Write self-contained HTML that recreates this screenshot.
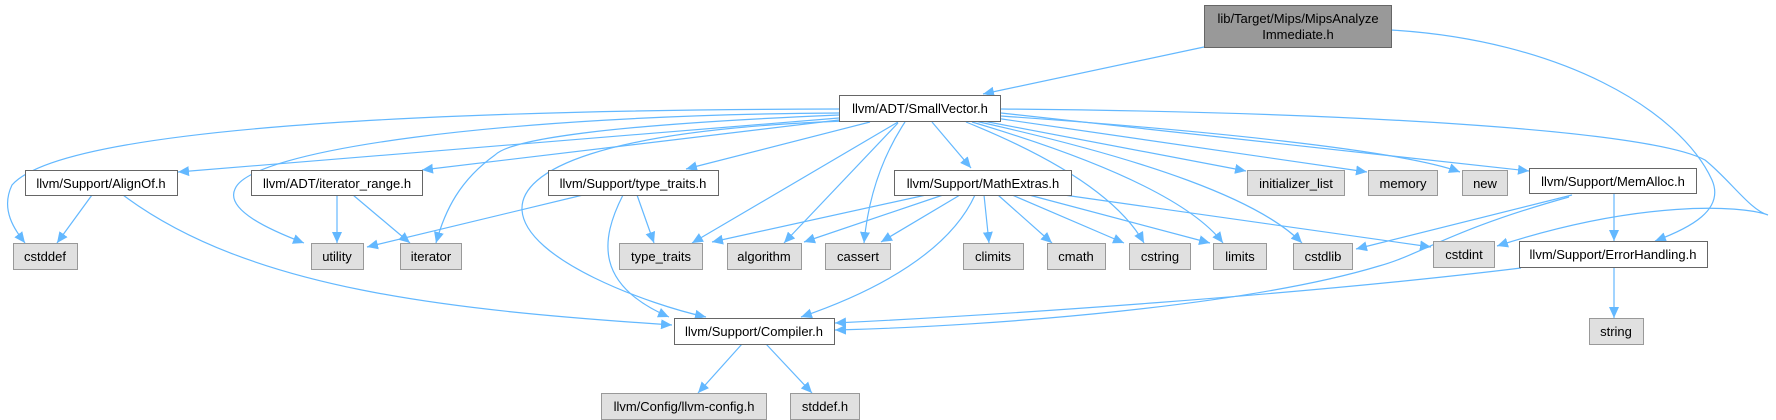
<!DOCTYPE html>
<html><head><meta charset="utf-8"><style>
html,body{margin:0;padding:0;background:#fff;}
svg{display:block;}
text{font-family:"Liberation Sans",Arial,sans-serif;font-size:13px;fill:#000;}
</style></head><body>
<svg width="1776" height="420" viewBox="0 0 1776 420" xmlns="http://www.w3.org/2000/svg">
<defs>
<marker id="a" markerUnits="userSpaceOnUse" markerWidth="12" markerHeight="10" refX="11" refY="5" orient="auto">
<path d="M0,0 L11,5 L0,10 z" fill="#63b8ff"/>
</marker>
</defs>
<g fill="none" stroke="#63b8ff" stroke-width="1.2" marker-end="url(#a)">
<path d="M1204,47 L983,94"/>
<path d="M1391,30 C1560,40 1680,110 1712,180 C1725,210 1690,228 1655,241"/>
<path d="M1001,109 C1350,112 1650,130 1705,160 C1730,180 1750,210 1768,215 C1740,205 1640,200 1497,246"/>
<path d="M1001,113 L1529,171"/>
<path d="M1001,116 C1200,130 1400,150 1460,172"/>
<path d="M995,118 L1367,172"/>
<path d="M983,121 L1246,171"/>
<path d="M975,121 C1150,160 1260,200 1302,243"/>
<path d="M972,122 C1100,160 1190,200 1223,243"/>
<path d="M966,122 C1060,160 1120,200 1144,243"/>
<path d="M932,122 L971,168"/>
<path d="M839,109 C400,110 60,130 12,185 C0,210 15,230 25,243"/>
<path d="M839,118 L178,172"/>
<path d="M839,120 L422,170"/>
<path d="M839,113 C500,115 250,150 235,189 C225,210 270,230 304,243"/>
<path d="M839,115 C600,125 510,140 495,155 C460,180 445,210 436,243"/>
<path d="M845,121 C600,130 520,170 522,210 C525,260 650,305 706,317"/>
<path d="M870,122 L686,169"/>
<path d="M898,122 L692,243"/>
<path d="M898,123 L784,243"/>
<path d="M905,122 C880,160 868,200 864,243"/>
<path d="M926,195 L712,242"/>
<path d="M943,195 L804,242"/>
<path d="M960,195 L881,242"/>
<path d="M975,195 C950,250 880,290 801,317"/>
<path d="M984,195 L989,243"/>
<path d="M998,195 L1052,243"/>
<path d="M1012,195 L1124,243"/>
<path d="M1029,195 L1210,243"/>
<path d="M1064,195 L1431,247"/>
<path d="M583,195 L367,247"/>
<path d="M637,195 L654,243"/>
<path d="M623,195 C600,240 595,285 669,317"/>
<path d="M92,195 L57,243"/>
<path d="M123,195 C250,290 450,310 672,325"/>
<path d="M337,195 L337,243"/>
<path d="M353,195 L410,243"/>
<path d="M1614,193 L1614,241"/>
<path d="M1572,195 L1356,249"/>
<path d="M1569,197 C1450,230 1420,255 1379,266 C1250,305 1000,326 835,330"/>
<path d="M1521,268 C1300,295 1000,315 835,323"/>
<path d="M1614,267 L1614,318"/>
<path d="M742,344 L698,393"/>
<path d="M766,344 L812,393"/>
</g>
<g stroke-width="1">
<rect x="1204.5" y="5.5" width="187" height="42" fill="#999" stroke="#666"/>
<rect x="839.5" y="95.5" width="161" height="26" fill="#fff" stroke="#666"/>
<rect x="25.5" y="170.5" width="152" height="25" fill="#fff" stroke="#666"/>
<rect x="251.5" y="170.5" width="171" height="25" fill="#fff" stroke="#666"/>
<rect x="548.5" y="170.5" width="170" height="25" fill="#fff" stroke="#666"/>
<rect x="894.5" y="170.5" width="177" height="25" fill="#fff" stroke="#666"/>
<rect x="1247.5" y="170.5" width="97" height="25" fill="#e0e0e0" stroke="#999"/>
<rect x="1368.5" y="170.5" width="69" height="25" fill="#e0e0e0" stroke="#999"/>
<rect x="1462.5" y="170.5" width="45" height="25" fill="#e0e0e0" stroke="#999"/>
<rect x="1529.5" y="168.5" width="167" height="25" fill="#fff" stroke="#666"/>
<rect x="13.5" y="243.5" width="64" height="26" fill="#e0e0e0" stroke="#999"/>
<rect x="311.5" y="243.5" width="52" height="26" fill="#e0e0e0" stroke="#999"/>
<rect x="400.5" y="243.5" width="61" height="26" fill="#e0e0e0" stroke="#999"/>
<rect x="619.5" y="243.5" width="83" height="26" fill="#e0e0e0" stroke="#999"/>
<rect x="727.5" y="243.5" width="74" height="26" fill="#e0e0e0" stroke="#999"/>
<rect x="825.5" y="243.5" width="65" height="26" fill="#e0e0e0" stroke="#999"/>
<rect x="963.5" y="243.5" width="60" height="26" fill="#e0e0e0" stroke="#999"/>
<rect x="1047.5" y="243.5" width="58" height="26" fill="#e0e0e0" stroke="#999"/>
<rect x="1129.5" y="243.5" width="61" height="26" fill="#e0e0e0" stroke="#999"/>
<rect x="1213.5" y="243.5" width="53" height="26" fill="#e0e0e0" stroke="#999"/>
<rect x="1293.5" y="243.5" width="59" height="26" fill="#e0e0e0" stroke="#999"/>
<rect x="1433.5" y="241.5" width="61" height="26" fill="#e0e0e0" stroke="#999"/>
<rect x="1519.5" y="241.5" width="188" height="26" fill="#fff" stroke="#666"/>
<rect x="674.5" y="318.5" width="160" height="26" fill="#fff" stroke="#666"/>
<rect x="1589.5" y="318.5" width="54" height="26" fill="#e0e0e0" stroke="#999"/>
<rect x="601.5" y="393.5" width="165" height="26" fill="#e0e0e0" stroke="#999"/>
<rect x="790.5" y="393.5" width="69" height="26" fill="#e0e0e0" stroke="#999"/>
</g>
<g text-anchor="middle">
<text x="1298" y="23">lib/Target/Mips/MipsAnalyze</text>
<text x="1298" y="39">Immediate.h</text>
<text x="920" y="113">llvm/ADT/SmallVector.h</text>
<text x="101" y="188">llvm/Support/AlignOf.h</text>
<text x="337" y="188">llvm/ADT/iterator_range.h</text>
<text x="633" y="188">llvm/Support/type_traits.h</text>
<text x="983" y="188">llvm/Support/MathExtras.h</text>
<text x="1296" y="188">initializer_list</text>
<text x="1403" y="188">memory</text>
<text x="1485" y="188">new</text>
<text x="1613" y="186">llvm/Support/MemAlloc.h</text>
<text x="45" y="261">cstddef</text>
<text x="337" y="261">utility</text>
<text x="431" y="261">iterator</text>
<text x="661" y="261">type_traits</text>
<text x="764" y="261">algorithm</text>
<text x="858" y="261">cassert</text>
<text x="993" y="261">climits</text>
<text x="1076" y="261">cmath</text>
<text x="1160" y="261">cstring</text>
<text x="1240" y="261">limits</text>
<text x="1323" y="261">cstdlib</text>
<text x="1464" y="259">cstdint</text>
<text x="1613" y="259">llvm/Support/ErrorHandling.h</text>
<text x="754" y="336">llvm/Support/Compiler.h</text>
<text x="1616" y="336">string</text>
<text x="684" y="411">llvm/Config/llvm-config.h</text>
<text x="825" y="411">stddef.h</text>
</g>
</svg>
</body></html>
